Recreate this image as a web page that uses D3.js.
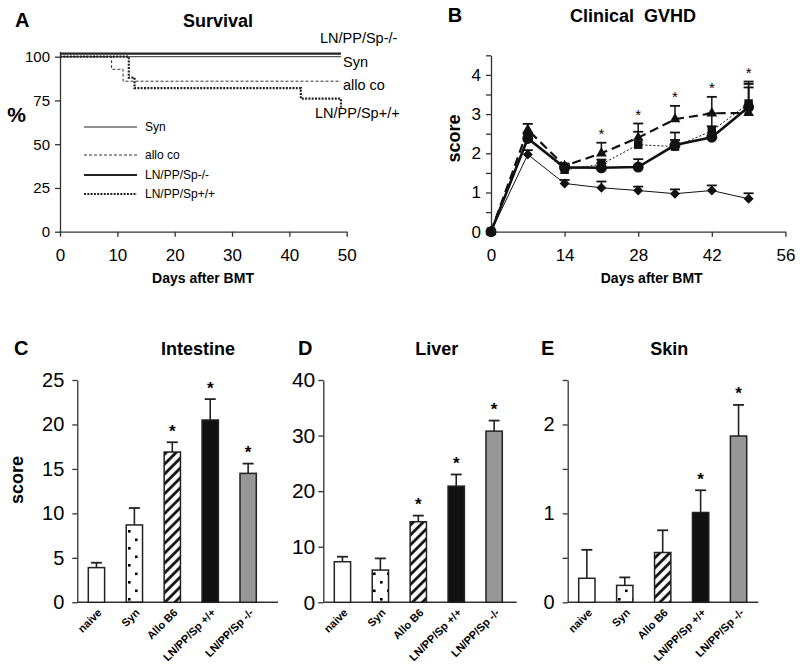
<!DOCTYPE html>
<html><head><meta charset="utf-8">
<script src="https://cdn.jsdelivr.net/npm/d3@7"></script>
<style>body{margin:0;background:#fff} svg{display:block}</style>
</head><body><svg id="c" width="800" height="668"></svg>
<script>
// ---------- Panel A: survival (step curves) ----------
const survDaysSyn = [0, 49],            survPctSyn = [100, 100];
const survDaysAllo = [0, 9, 11, 49],    survPctAllo = [100, 92.8, 86, 86];
const survDaysKO = [0, 49],             survPctKO = [101.8, 101.8];
const survDaysWT = [0, 12, 13, 42, 49], survPctWT = [100, 88, 82, 76, 71];
const survLegend = ["Syn", "allo co", "LN/PP/Sp-/-", "LN/PP/Sp+/+"];
const survXTicks = [0, 10, 20, 30, 40, 50];
const survYTicks = [0, 25, 50, 75, 100];

// ---------- Panel B: clinical GVHD ----------
const gvhdDays = [0, 7, 14, 21, 28, 35, 42, 49];
const gvhdDiamond = [0, 1.97, 1.23, 1.12, 1.05, 0.97, 1.05, 0.84];
const gvhdDiamondErr = [0, 0.11, 0.09, 0.16, 0.10, 0.11, 0.13, 0.14];
const gvhdTriangle = [0, 2.60, 1.68, 2.00, 2.40, 2.87, 3.02, 3.03];
const gvhdTriangleErr = [0, 0.15, 0.06, 0.27, 0.36, 0.34, 0.42, 0.80];
const gvhdSquare = [0, 2.40, 1.58, 1.72, 2.22, 2.17, 2.57, 3.27];
const gvhdSquareErr = [0, 0.10, 0.10, 0.12, 0.33, 0.17, 0.45, 0.50];
const gvhdCircle = [0, 2.38, 1.64, 1.63, 1.65, 2.21, 2.41, 3.18];
const gvhdCircleErr = [0, 0.12, 0.08, 0.12, 0.20, 0.32, 0.28, 0.50];
const gvhdStarDays = [21, 28, 35, 42, 49];
const gvhdXTicks = [0, 14, 28, 42, 56];
const gvhdYTicks = [0, 0.5, 1, 1.5, 2, 2.5, 3, 3.5, 4, 4.5];

// ---------- Panels C-E: histopathology ----------
const organCats = ["naive", "Syn", "Allo B6", "LN/PP/Sp +/+", "LN/PP/Sp -/-"];
const intestineMean = [3.9, 8.7, 16.9, 20.5, 14.5];
const intestineErr  = [0.55, 1.9, 1.1, 2.35, 1.1];
const intestineStar = [false, false, true, true, true];
const intestineTicks = [0, 5, 10, 15, 20, 25];
const liverMean = [7.3, 5.8, 14.5, 20.9, 30.8];
const liverErr  = [0.9, 2.1, 1.1, 2.1, 1.9];
const liverStar = [false, false, true, true, true];
const liverTicks = [0, 10, 20, 30, 40];
const skinMean = [0.27, 0.19, 0.56, 1.01, 1.87];
const skinErr  = [0.32, 0.09, 0.25, 0.25, 0.35];
const skinStar = [false, false, false, true, true];
const skinTicks = [0, 0.5, 1, 1.5, 2, 2.5];

const FONT = '"Liberation Sans", Arial, Helvetica, sans-serif';
const svg = d3.select("#c").attr("font-family", FONT);

// patterns
const defs = svg.append("defs");
const dots = defs.append("pattern").attr("id", "dots").attr("patternUnits", "userSpaceOnUse")
  .attr("width", 14).attr("height", 17);
dots.append("rect").attr("x", 2).attr("y", 3).attr("width", 2.6).attr("height", 2.6).attr("fill", "#000");
dots.append("rect").attr("x", 9).attr("y", 11.5).attr("width", 2.6).attr("height", 2.6).attr("fill", "#000");
const hatch = defs.append("pattern").attr("id", "hatch").attr("patternUnits", "userSpaceOnUse")
  .attr("width", 7).attr("height", 7).attr("patternTransform", "rotate(45)");
hatch.append("rect").attr("width", 7).attr("height", 7).attr("fill", "#fff");
hatch.append("line").attr("x1", 3.5).attr("x2", 3.5).attr("y1", 0).attr("y2", 7)
  .attr("stroke", "#000").attr("stroke-width", 2.6);
const barFills = ["#fff", "url(#dots)", "url(#hatch)", "#111", "#979797"];

function styleAxis(g, fs) {
  g.attr("font-size", fs).attr("font-family", FONT);
  g.select(".domain").attr("stroke", "#333").attr("stroke-width", 1.3);
  g.selectAll(".tick line").attr("stroke", "#333").attr("stroke-width", 1.3);
  g.selectAll(".tick text").attr("fill", "#000");
}
function label(x, y, txt, fs, bold, anchor) {
  return svg.append("text").attr("x", x).attr("y", y).text(txt)
    .attr("font-size", fs).attr("font-weight", bold ? "bold" : "normal")
    .attr("text-anchor", anchor || "middle").attr("fill", "#000");
}

// ================= Panel A =================
{
  const x = d3.scaleLinear().domain([0, 50]).range([60, 346.7]);
  const y = d3.scaleLinear().domain([0, 103]).range([231.7, 231.7 - 103 * 1.75]);
  const gx = svg.append("g").attr("transform", "translate(0,231.7)")
    .call(d3.axisBottom(x).tickValues(survXTicks).tickSize(5).tickSizeOuter(0).tickPadding(12));
  styleAxis(gx, 17);
  const gy = svg.append("g").attr("transform", "translate(60,0)")
    .call(d3.axisLeft(y).tickValues(survYTicks).tickSize(5).tickSizeOuter(0).tickPadding(5));
  styleAxis(gy, 15);

  const line = d3.line().x(d => x(d[0])).y(d => y(d[1])).curve(d3.curveStepAfter);
  const zip = (a, b) => a.map((d, i) => [d, b[i]]);
  const styles = [
    { data: zip(survDaysSyn, survPctSyn), w: 1.2, dash: null, c: "#555" },
    { data: zip(survDaysAllo, survPctAllo), w: 1, dash: "3,2", c: "#333" },
    { data: zip(survDaysKO, survPctKO), w: 2.2, dash: null, c: "#222" },
    { data: zip(survDaysWT, survPctWT), w: 2.2, dash: "2,1.3", c: "#222" }
  ];
  styles.forEach(s => svg.append("path").attr("d", line(s.data)).attr("fill", "none")
    .attr("stroke", s.c).attr("stroke-width", s.w).attr("stroke-dasharray", s.dash));

  // legend
  const rows = [127, 155, 175, 194];
  survLegend.forEach((t, i) => {
    svg.append("line").attr("x1", 84).attr("x2", 137).attr("y1", rows[i]).attr("y2", rows[i])
      .attr("stroke", i === 0 ? "#222" : styles[i].c).attr("stroke-width", styles[i].w)
      .attr("stroke-dasharray", styles[i].dash);
    label(145, rows[i] + 4.3, t, 12, false, "start");
  });
  // end labels
  label(320, 43, survLegend[2], 14.5, false, "start");
  label(343, 66.5, survLegend[0], 14.5, false, "start");
  label(343, 90, survLegend[1], 14.5, false, "start");
  label(315, 118, survLegend[3], 14.5, false, "start");

  label(15, 27, "A", 20, true, "start");
  label(218, 26.5, "Survival", 18, true);
  label(16.5, 122, "%", 21, true);
  label(203, 283, "Days after BMT", 14, true);
}

// ================= Panel B =================
{
  const x = d3.scaleLinear().domain([0, 56]).range([491, 785.4]);
  const y = d3.scaleLinear().domain([0, 4.5]).range([231.7, 231.7 - 4.5 * 39.2]);
  const gx = svg.append("g").attr("transform", "translate(0,231.7)")
    .call(d3.axisBottom(x).tickValues(gvhdXTicks).tickSize(5).tickSizeOuter(0).tickPadding(12));
  styleAxis(gx, 17);
  const gy = svg.append("g").attr("transform", "translate(491,0)")
    .call(d3.axisLeft(y).tickValues(gvhdYTicks).tickSize(5).tickSizeOuter(0).tickPadding(5)
      .tickFormat(d => Number.isInteger(d) ? d : ""));
  styleAxis(gy, 17);

  const series = [
    { v: gvhdDiamond, e: gvhdDiamondErr, w: 1, dash: null, sym: "diamond" },
    { v: gvhdSquare, e: gvhdSquareErr, w: 1, dash: "2,2", sym: "square" },
    { v: gvhdCircle, e: gvhdCircleErr, w: 2.6, dash: null, sym: "circle" },
    { v: gvhdTriangle, e: gvhdTriangleErr, w: 2.2, dash: "9,5", sym: "triangle" }
  ];
  const line = d3.line().x((d, i) => x(gvhdDays[i])).y(d => y(d));
  series.forEach(s => svg.append("path").attr("d", line(s.v)).attr("fill", "none")
    .attr("stroke", "#111").attr("stroke-width", s.w).attr("stroke-dasharray", s.dash));
  // error bars
  series.forEach(s => {
    s.v.forEach((v, i) => {
      if (!s.e[i]) return;
      const cx = x(gvhdDays[i]), y0 = y(v), y1 = y(v + s.e[i]);
      svg.append("line").attr("x1", cx).attr("x2", cx).attr("y1", y0).attr("y2", y1)
        .attr("stroke", "#111").attr("stroke-width", 1.5);
      svg.append("line").attr("x1", cx - 5).attr("x2", cx + 5).attr("y1", y1).attr("y2", y1)
        .attr("stroke", "#111").attr("stroke-width", 1.8);
    });
  });
  // markers
  const symGen = {
    diamond: d3.symbol().type(d3.symbolSquare).size(50),
    square: d3.symbol().type(d3.symbolSquare).size(72),
    circle: d3.symbol().type(d3.symbolCircle).size(95),
    triangle: d3.symbol().type(d3.symbolTriangle).size(50)
  };
  series.forEach(s => {
    s.v.forEach((v, i) => {
      svg.append("path").attr("d", symGen[s.sym]())
        .attr("transform", `translate(${x(gvhdDays[i])},${y(v)})` + (s.sym === "diamond" ? " rotate(45)" : ""))
        .attr("fill", "#111");
    });
  });
  // stars
  gvhdStarDays.forEach(d => {
    const i = gvhdDays.indexOf(d);
    const top = d3.max(series, s => s.v[i] + s.e[i]);
    svg.append("text").attr("x", x(d)).attr("y", y(top) - 12 + 8.5).text("*")
      .attr("font-size", 15).attr("text-anchor", "middle").attr("fill", "#000");
  });

  label(455, 22, "B", 20, true);
  label(633, 21.5, "Clinical  GVHD", 18, true).attr("xml:space", "preserve").style("white-space", "pre");
  svg.append("text").attr("transform", "translate(459.5,138.5) rotate(-90)").attr("text-anchor", "middle")
    .attr("font-size", 18).attr("font-weight", "bold").text("score");
  label(651.7, 283, "Days after BMT", 14, true);
}

// ================= Panels C, D, E =================
function barPanel(cfg) {
  const yBot = 602.3, yTop = 380;
  const y = d3.scaleLinear().domain([0, cfg.max]).range([yBot, yTop]);
  const x = d3.scaleBand().domain(organCats).range([cfg.x0, cfg.x0 + 190])
    .paddingInner(0.57).paddingOuter(0.29);
  const gy = svg.append("g").attr("transform", `translate(${cfg.x0},0)`)
    .call(d3.axisLeft(y).tickValues(cfg.ticks).tickSize(5).tickSizeOuter(0).tickPadding(cfg.pad)
      .tickFormat(d => cfg.labelEvery ? (Number.isInteger(d) ? d : "") : d));
  styleAxis(gy, cfg.fs);
  svg.append("line").attr("x1", cfg.x0).attr("x2", cfg.xEnd).attr("y1", yBot).attr("y2", yBot)
    .attr("stroke", "#333").attr("stroke-width", 1.5);

  organCats.forEach((c, i) => {
    const bx = x(c), bw = x.bandwidth(), cx = bx + bw / 2;
    const m = cfg.mean[i], e = cfg.err[i];
    // error bar
    svg.append("line").attr("x1", cx).attr("x2", cx).attr("y1", y(m)).attr("y2", y(m + e))
      .attr("stroke", "#222").attr("stroke-width", 1.6);
    svg.append("line").attr("x1", cx - 5.5).attr("x2", cx + 5.5).attr("y1", y(m + e)).attr("y2", y(m + e))
      .attr("stroke", "#222").attr("stroke-width", 1.8);
    svg.append("rect").attr("x", bx).attr("y", y(m)).attr("width", bw).attr("height", yBot - y(m))
      .attr("fill", barFills[i]).attr("stroke", "#222").attr("stroke-width", 1.5);
    if (cfg.star[i]) {
      svg.append("text").attr("x", cx).attr("y", y(m + e) - 15 + 9.5).text("*")
        .attr("font-size", 17).attr("font-weight", "bold").attr("text-anchor", "middle").attr("fill", "#000");
    }
    svg.append("text").attr("transform", `translate(${cx + 6},${yBot + 11}) rotate(-45)`)
      .attr("text-anchor", "end").attr("font-size", 11).attr("font-weight", "bold").text(c);
  });
  label(cfg.letterX, 355, cfg.letter, 20, true, "start");
  label(cfg.titleX, 354.5, cfg.title, 18, true);
}
barPanel({ x0: 77.3, xEnd: 278, max: 25, ticks: intestineTicks, pad: 8, fs: 20,
  mean: intestineMean, err: intestineErr, star: intestineStar,
  letter: "C", letterX: 14, title: "Intestine", titleX: 198 });
barPanel({ x0: 323.3, xEnd: 516.7, max: 40, ticks: liverTicks, pad: 3, fs: 21,
  mean: liverMean, err: liverErr, star: liverStar,
  letter: "D", letterX: 298, title: "Liver", titleX: 436.7 });
barPanel({ x0: 567.7, xEnd: 758.3, max: 2.5, ticks: skinTicks, pad: 8, fs: 20, labelEvery: true,
  mean: skinMean, err: skinErr, star: skinStar,
  letter: "E", letterX: 541, title: "Skin", titleX: 669.3 });
svg.append("text").attr("transform", "translate(23,480) rotate(-90)").attr("text-anchor", "middle")
  .attr("font-size", 18).attr("font-weight", "bold").text("score");
</script>
</body></html>
